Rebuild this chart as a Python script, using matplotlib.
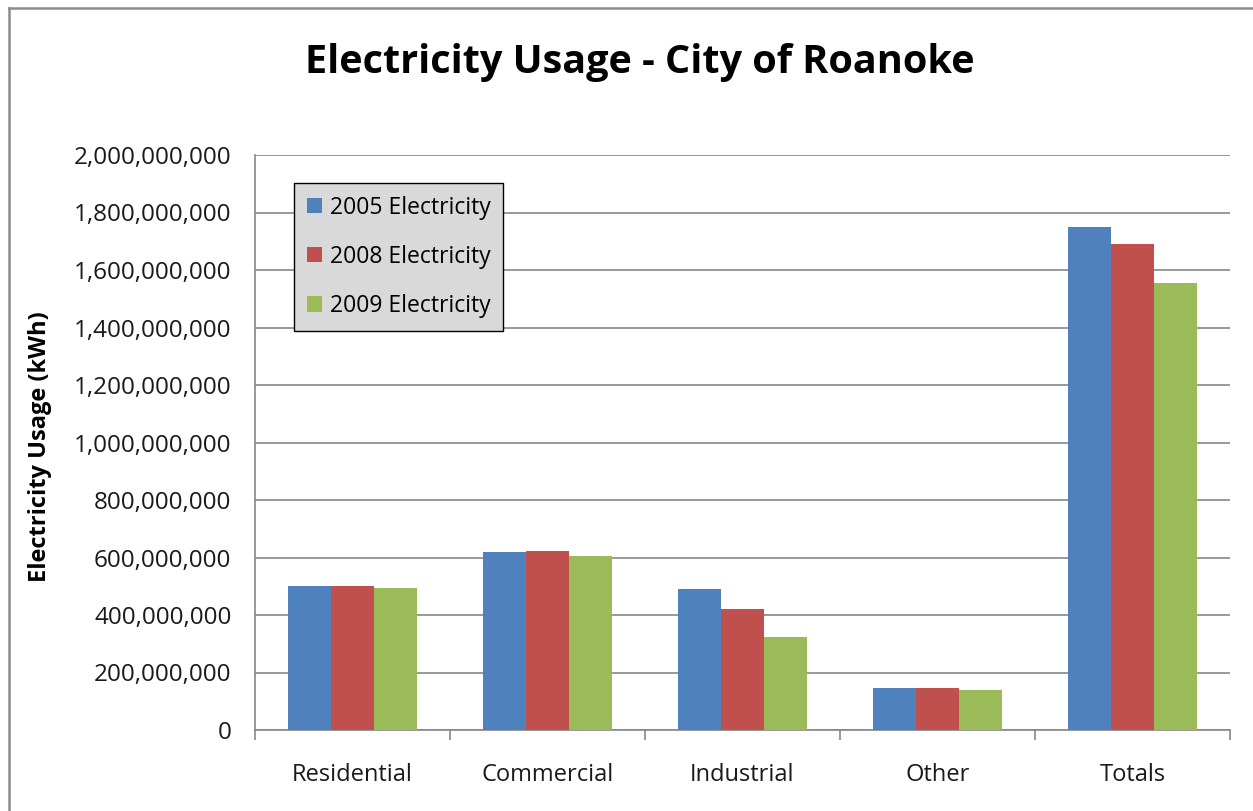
import matplotlib
matplotlib.use("Agg")
import matplotlib.pyplot as plt
import numpy as np
from matplotlib.ticker import FuncFormatter, FixedLocator
from matplotlib.lines import Line2D

categories = ["Residential", "Commercial", "Industrial", "Other", "Totals"]
series_names = ["2005 Electricity", "2008 Electricity", "2009 Electricity"]
e2005 = [501e6, 619e6, 489e6, 145e6, 1748e6]
e2008 = [501e6, 623e6, 421e6, 145e6, 1691e6]
e2009 = [493e6, 606e6, 323e6, 140e6, 1556e6]
y_ticks = [0, 200e6, 400e6, 600e6, 800e6, 1000e6, 1200e6, 1400e6, 1600e6, 1800e6, 2000e6]
title = "Electricity Usage - City of Roanoke"
ylabel = "Electricity Usage (kWh)"

colors = ["#4F81BD", "#C0504D", "#9BBB59"]
grid_c = "#878787"
FONT = "Open Sans"
plt.rcParams["font.family"] = [FONT, "DejaVu Sans"]

W, H = 1253, 811
fig = plt.figure(figsize=(W / 100, H / 100), dpi=100)
fig.patch.set_facecolor("white")

# chart border (left and top visible)
fig.add_artist(Line2D([9 / W, 9 / W], [0, 1 - 8 / H], transform=fig.transFigure, color="#8c8c8c", lw=1.8))
fig.add_artist(Line2D([9 / W, 1], [1 - 8 / H, 1 - 8 / H], transform=fig.transFigure, color="#8c8c8c", lw=1.8))

ax = fig.add_axes([255 / W, 1 - 730 / H, (1230 - 255) / W, (730 - 155) / H])
x = np.arange(len(categories))
bw = 0.22
for i, (vals, c, n) in enumerate(zip([e2005, e2008, e2009], colors, series_names)):
    ax.bar(x + (i - 1) * bw, vals, width=bw, color=c, label=n, zorder=3, linewidth=0)

ax.set_xlim(-0.5, len(categories) - 0.5)
ax.set_ylim(0, 2000e6)
ax.yaxis.set_major_locator(FixedLocator(y_ticks))
ax.yaxis.set_major_formatter(FuncFormatter(lambda v, p: f"{int(round(v)):,}"))
ax.yaxis.grid(True, color=grid_c, lw=1.2, zorder=0)
ax.set_axisbelow(True)

ax.set_xticks(x)
ax.set_xticklabels(categories)
ax.set_xticks(np.arange(-0.5, len(categories)), minor=True)
ax.tick_params(axis="x", which="major", length=0, pad=24, labelsize=17)
ax.tick_params(axis="x", which="minor", length=7, width=1.2, color=grid_c)
ax.tick_params(axis="y", which="major", length=0, pad=17, labelsize=17.5)
for lbl in ax.get_xticklabels() + ax.get_yticklabels():
    lbl.set_color("#1a1a1a")

for s in ["top", "right"]:
    ax.spines[s].set_visible(False)
for s in ["left", "bottom"]:
    ax.spines[s].set_color(grid_c)
    ax.spines[s].set_linewidth(1.2)

fig.text(640 / W, 1 - 62 / H, title, ha="center", va="center", fontsize=28.5, fontweight="bold", color="#000000")
fig.text(40 / W, 1 - 447 / H, ylabel, ha="center", va="center", rotation=90, fontsize=17, fontweight="bold", color="#000000")

leg = ax.legend(loc="upper left", bbox_to_anchor=((294 - 255) / 975, (730 - 183) / 575), fontsize=16.5,
                frameon=True, fancybox=False, facecolor="#d9d9d9", edgecolor="#000000", framealpha=1,
                handlelength=0.65, handleheight=0.65, handletextpad=0.35, labelspacing=1.1, borderpad=0.55,
                borderaxespad=0)
leg.get_frame().set_linewidth(1.0)

fig.savefig("out.png", dpi=100, facecolor="white")
